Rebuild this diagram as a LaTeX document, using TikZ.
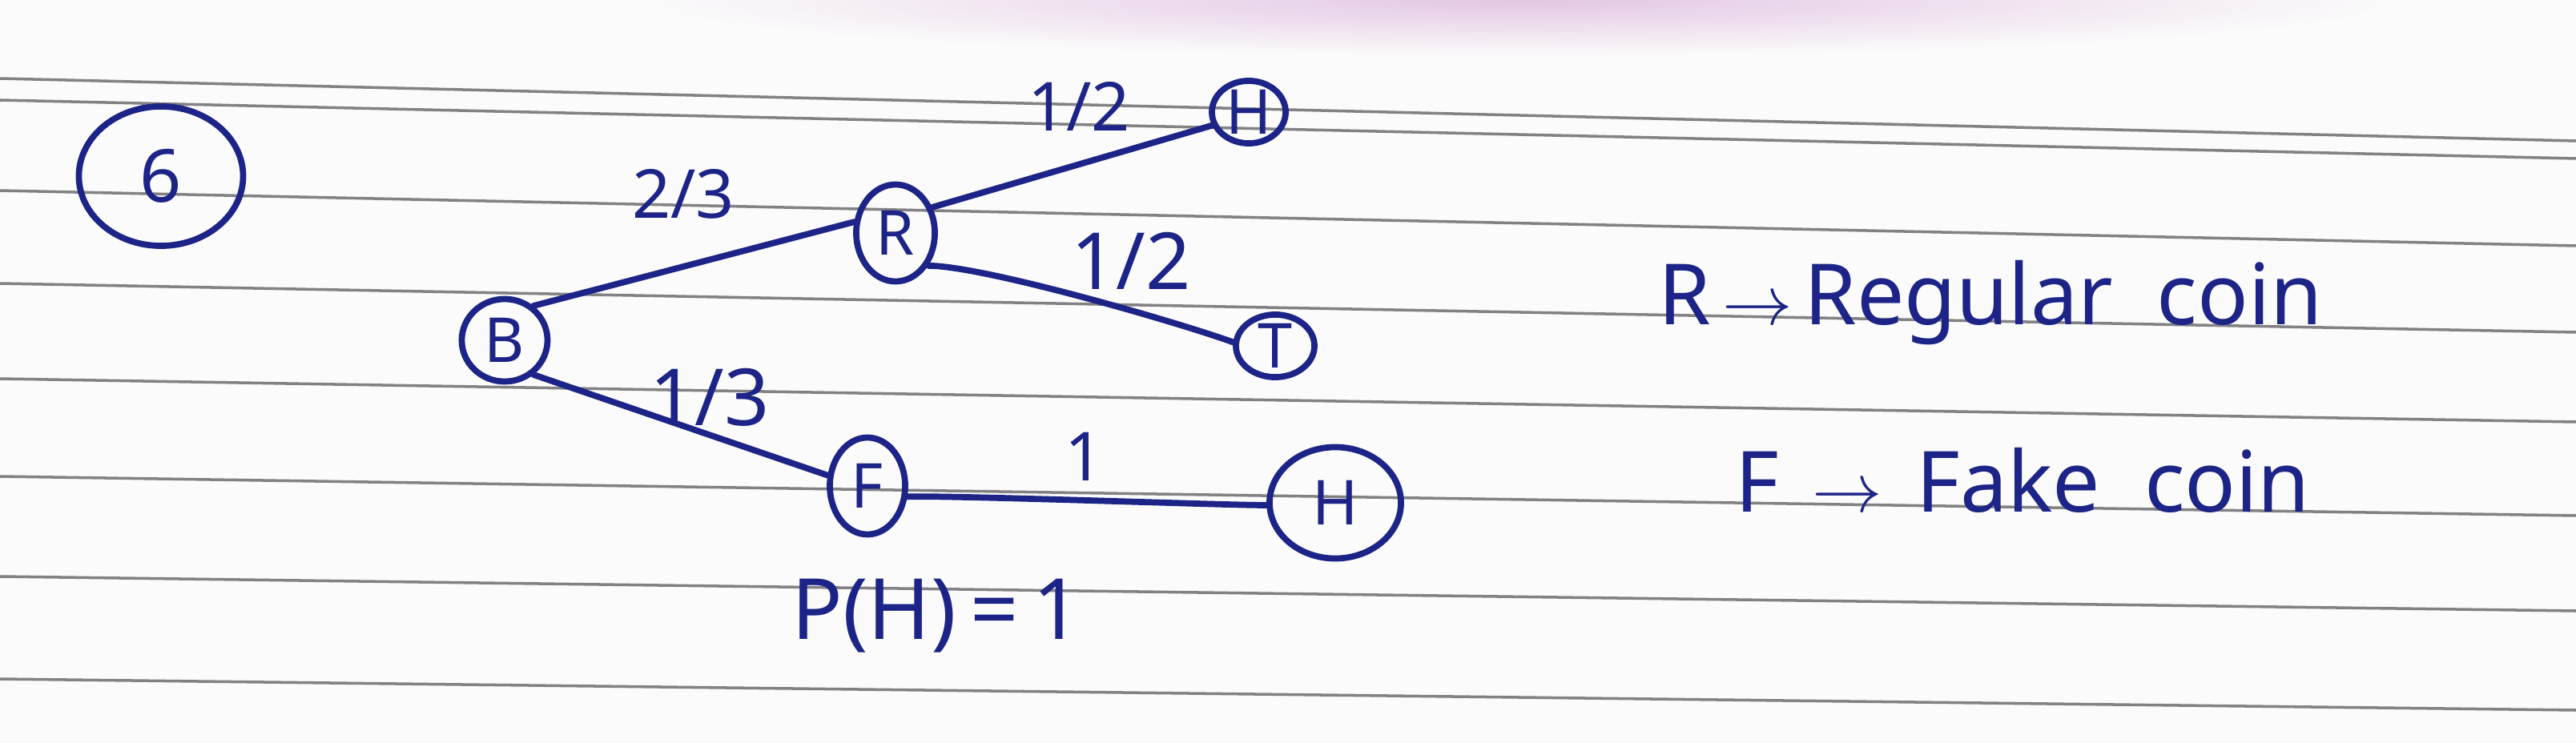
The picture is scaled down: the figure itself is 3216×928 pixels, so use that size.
\documentclass[tikz,border=0pt]{standalone}
\usepackage{fontspec}
\setmainfont{Noto Sans}
\usetikzlibrary{shapes.geometric}
\definecolor{inkblue}{RGB}{28,36,135}
\definecolor{paper}{RGB}{251,251,251}
\definecolor{rule}{RGB}{130,130,133}
\begin{document}
\begin{tikzpicture}[x=0.01cm,y=-0.01cm,
  ink/.style={draw=inkblue, line width=2.2pt, line cap=round},
  ruled/.style={draw=rule, line width=1pt},
  coin/.style={ellipse, draw=inkblue, line width=2.2pt, text=inkblue, inner sep=0pt, font=\fontsize{22}{22}\selectfont},
  lab/.style={text=inkblue, inner sep=0pt},
  legend/.style={text=inkblue, inner sep=0pt, font=\fontsize{30}{30}\selectfont, anchor=center}]
\useasboundingbox (0,0) rectangle (3216,928);
\fill[paper] (0,0) rectangle (3216,928);
\shade[inner color=violet!22, outer color=paper] (1900,0) ellipse [x radius=1100, y radius=70];
% ruled lines
\draw[ruled] (0,98) -- (3216,176);
\draw[ruled] (0,125) -- (3216,198);
\draw[ruled] (0,238) -- (3216,307);
\draw[ruled] (0,354) -- (3216,415);
\draw[ruled] (0,473) -- (3216,527);
\draw[ruled] (0,595) -- (3216,644);
\draw[ruled] (0,720) -- (3216,763);
\draw[ruled] (0,848) -- (3216,887);
% nodes
\node[coin, minimum width=2.05cm, minimum height=1.74cm, font=\fontsize{26}{26}\selectfont] (six) at (201,220) {6};
\node[coin, minimum width=1.07cm, minimum height=1.03cm] (B) at (630,425) {B};
\node[coin, minimum width=0.98cm, minimum height=1.21cm] (R) at (1118,291) {R};
\node[coin, minimum width=0.92cm, minimum height=0.68cm] (Ht) at (1559,140) {H};
\node[coin, minimum width=0.98cm, minimum height=0.62cm] (T) at (1592,432) {T};
\node[coin, minimum width=0.94cm, minimum height=1.21cm] (F) at (1083,607) {F};
\node[coin, minimum width=1.64cm, minimum height=1.39cm] (Hb) at (1667,628) {H};
% connectors
\draw[ink] (B.50) -- (R.165);
\draw[ink] (R.35) -- (Ht.200);
\draw[ink] (R.-45) to[out=0,in=160,looseness=0.45] (T.175);
\draw[ink] (B.-50) -- (F.165);
\draw[ink] (F.-15) to[out=2,in=180,looseness=0.3] (Hb.182);
% labels
\node[lab, font=\fontsize{24}{24}\selectfont] (l23) at (853,242) {2/3};
\node[lab, font=\fontsize{24}{24}\selectfont] (l12a) at (1347,133) {1/2};
\node[lab, font=\fontsize{28}{28}\selectfont] (l12b) at (1412,326) {1/2};
\node[lab, font=\fontsize{28}{28}\selectfont] (l13) at (886,496) {1/3};
\node[lab, font=\fontsize{24}{24}\selectfont] (l1) at (1354,570) {1};
\node[lab, font=\fontsize{30}{30}\selectfont] (pH) at (1169,769) {P(H)\,=\,1};
\node[legend] (legR) at (2485,378) {R$\,\rightarrow\,$Regular\ \ coin};
\node[legend] (legF) at (2525,600) {F $\,\rightarrow\,$ Fake\ \ coin};
\end{tikzpicture}
\end{document}
